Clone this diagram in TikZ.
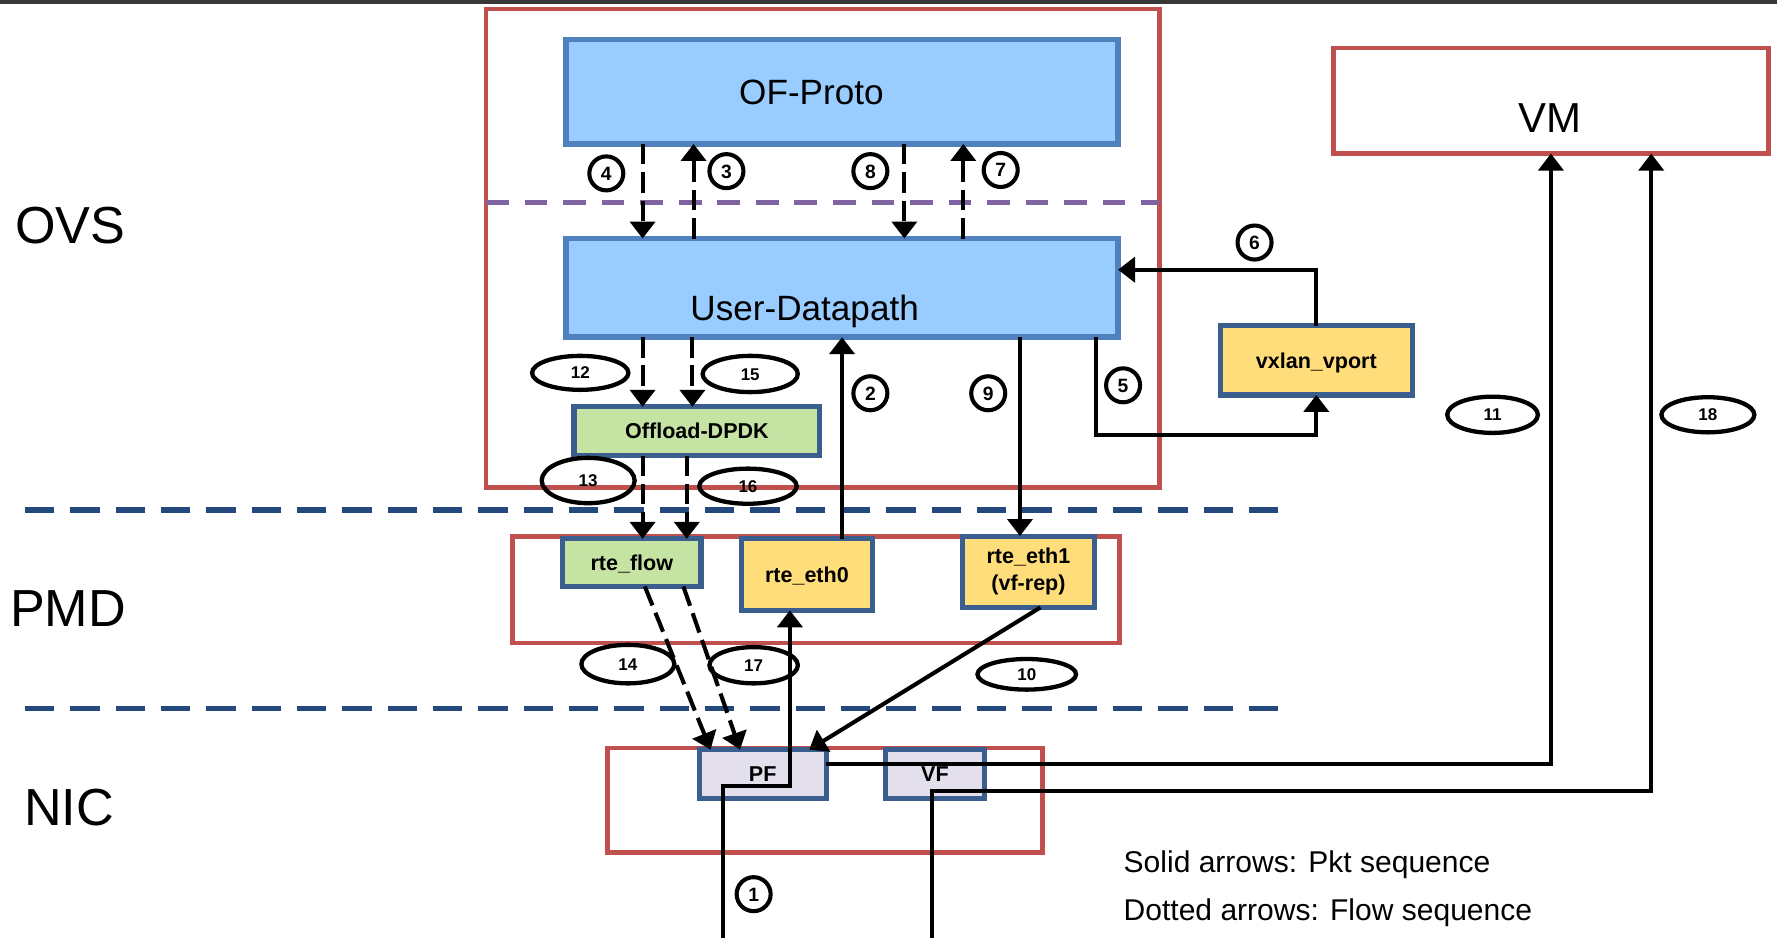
\documentclass[tikz,border=0pt]{standalone}
\usepackage{fontspec}
\setmainfont{Liberation Sans}
\usetikzlibrary{arrows.meta,calc,shapes.geometric}
\definecolor{redb}{HTML}{C0504D}
\definecolor{bluefill}{HTML}{99CCFF}
\definecolor{blueb}{HTML}{4F81BD}
\definecolor{darkb}{HTML}{3A5F8F}
\definecolor{greenf}{HTML}{C5E4A3}
\definecolor{yellowf}{HTML}{FFDD7B}
\definecolor{lavf}{HTML}{E4DFEC}
\definecolor{purp}{HTML}{8064A2}
\definecolor{navyd}{HTML}{24497D}
\begin{document}
\begin{tikzpicture}[x=1pt,y=-1pt,
  box/.style={rectangle,inner sep=0pt,outer sep=0pt},
  redbox/.style={box,draw=redb,line width=4pt},
  bigbox/.style={box,draw=blueb,fill=bluefill,line width=5pt},
  smallbox/.style={box,draw=darkb,line width=4.5pt,font=\bfseries\fontsize{19}{24}\selectfont,text height=13.6pt,text depth=0pt},
  arr/.style={line width=3.6pt,-{Triangle[width=22pt,length=15pt]}},
  darr/.style={arr,dash pattern=on 18pt off 7pt},
  numc/.style={circle,draw,line width=3.6pt,minimum size=30pt,inner sep=0pt,font=\bfseries\fontsize{17}{20}\selectfont,text height=12.2pt,text depth=0pt},
  nume/.style={ellipse,draw,line width=3.8pt,inner sep=0pt,font=\bfseries\fontsize{15}{17}\selectfont,text height=10.7pt,text depth=0pt},
  bigtxt/.style={anchor=base,font=\fontsize{46}{55}\selectfont},
  midtxt/.style={anchor=base,font=\fontsize{31}{37}\selectfont},
  legtxt/.style={anchor=base west,font=\fontsize{26.5}{31}\selectfont}
]
\useasboundingbox (0,0) rectangle (1568,827);
\fill[black!78] (0,0) rectangle (1568,3.5);

% containers
\node[redbox,minimum width=594pt,minimum height=422pt] (ovsbox) at (726,219) {};
\node[redbox,minimum width=536pt,minimum height=94pt] (pmdbox) at (720,520.5) {};
\node[redbox,minimum width=384pt,minimum height=92pt] (nicbox) at (728,706) {};
\node[redbox,minimum width=384pt,minimum height=93pt] (vm) at (1368.5,89) {};
\node[midtxt,font=\fontsize{37}{44}\selectfont] (vmtxt) at (1368,117) {VM};

% separators
\draw[purp,line width=4.5pt,dash pattern=on 20pt off 14pt] (ovsbox.west |- 0,179) -- (ovsbox.east |- 0,179);
\draw[navyd,line width=4.5pt,dash pattern=on 26pt off 14pt] (22,450) -- (1130,450);
\draw[navyd,line width=4.5pt,dash pattern=on 26pt off 14pt] (22,625) -- (1130,625);

% blue boxes
\node[bigbox,minimum width=487pt,minimum height=92pt] (ofproto) at (743,81) {};
\node[midtxt] (oftxt) at (716,92) {OF-Proto};
\node[bigbox,minimum width=487pt,minimum height=87pt] (udp) at (743,254) {};
\node[midtxt] (udptxt) at (710,283) {User-Datapath};

% small boxes
\node[smallbox,fill=greenf,minimum width=217pt,minimum height=43pt] (offload) at (615,380.5) {Offload-DPDK};
\node[smallbox,fill=greenf,minimum width=122pt,minimum height=42pt] (rteflow) at (557.5,496.5) {rte\_flow};
\node[smallbox,fill=yellowf,minimum width=116pt,minimum height=63pt] (rteeth0) at (712,507) {rte\_eth0};
\node[box,draw=darkb,line width=4.5pt,fill=yellowf,minimum width=116pt,minimum height=63pt,align=center,font=\bfseries\fontsize{19}{24}\selectfont] (rteeth1) at (907.5,504.5) {rte\_eth1\\(vf-rep)};
\node[smallbox,fill=yellowf,minimum width=169pt,minimum height=61pt] (vxlan) at (1161.5,318) {vxlan\_vport};
\node[smallbox,fill=lavf,minimum width=112pt,minimum height=43pt] (pf) at (673,683) {PF};
\node[smallbox,fill=lavf,minimum width=87pt,minimum height=43pt] (vf) at (825,683) {VF};

% left labels
\node[bigtxt] (ovs) at (62,215) {OVS};
\node[bigtxt] (pmd) at (60,553) {PMD};
\node[bigtxt] (nic) at (61,728) {NIC};

% legend
\node[legtxt] (leg1) at (988,770) {Solid arrows: Pkt sequence};
\node[legtxt] (leg2) at (988,812) {Dotted arrows: Flow sequence};

% dashed flow arrows
\draw[darr] (ofproto.south -| 567,0) -- (udp.north -| 567,0);
\draw[darr] (udp.north -| 612,0) -- (ofproto.south -| 612,0);
\draw[darr] (ofproto.south -| 798,0) -- (udp.north -| 798,0);
\draw[darr] (udp.north -| 850,0) -- (ofproto.south -| 850,0);
\draw[darr] (udp.south -| 567,0) -- (offload.north -| 567,0);
\draw[darr] (udp.south -| 611,0) -- (offload.north -| 611,0);
\draw[darr] (offload.south -| 567,0) -- (rteflow.north -| 567,0);
\draw[darr] (offload.south -| 606,0) -- (rteflow.north -| 606,0);
\draw[darr] (rteflow.south -| 569,0) -- (pf.north -| 627,0);
\draw[darr] (rteflow.south -| 603,0) -- (pf.north -| 653,0);

% solid packet arrows
\coordinate (s1) at (638,835);
\coordinate (k1) at (697,693.5);
\coordinate (s18) at (822.5,835);
\coordinate (k18) at (1457,698);
\draw[arr] (s1) |- (k1) -- (rteeth0.south -| k1);
\draw[arr] (rteeth0.north -| 743,0) -- (udp.south -| 743,0);
\draw[arr] (udp.south -| 967,0) |- (vxlan.south |- 0,384) -- (vxlan.south);
\draw[arr] (vxlan.north) |- (udp.east |- 0,238);
\draw[arr] (udp.south -| 900,0) -- (rteeth1.north -| 900,0);
\draw[arr] (rteeth1.south -| 918,0) -- (pf.north -| 714,0);
\draw[arr] (pf.east |- 0,674) -| (vm.south);
\draw[arr] (s18) |- (k18) -- (vm.south -| k18);

% step numbers
\node[numc] (n1) at (665,789) {1};
\node[numc] (n2) at (768,347) {2};
\node[numc] (n3) at (641,151) {3};
\node[numc] (n4) at (535,153) {4};
\node[numc] (n5) at (991,340) {5};
\node[numc] (n6) at (1107,214) {6};
\node[numc] (n7) at (883,150) {7};
\node[numc] (n8) at (768,151) {8};
\node[numc] (n9) at (872,347) {9};
\node[nume,minimum width=87pt,minimum height=27pt] (n10) at (906,595) {10};
\node[nume,minimum width=80pt,minimum height=32pt] (n11) at (1317,366) {11};
\node[nume,minimum width=85pt,minimum height=30pt] (n12) at (512,329) {12};
\node[nume,minimum width=82pt,minimum height=40pt] (n13) at (519,424) {13};
\node[nume,minimum width=82pt,minimum height=34pt] (n14) at (554,586) {14};
\node[nume,minimum width=84pt,minimum height=32pt] (n15) at (662,330) {15};
\node[nume,minimum width=86pt,minimum height=31pt] (n16) at (660,429) {16};
\node[nume,minimum width=78pt,minimum height=32pt] (n17) at (665,587) {17};
\node[nume,minimum width=82pt,minimum height=31pt] (n18) at (1507,366) {18};
\end{tikzpicture}
\end{document}
